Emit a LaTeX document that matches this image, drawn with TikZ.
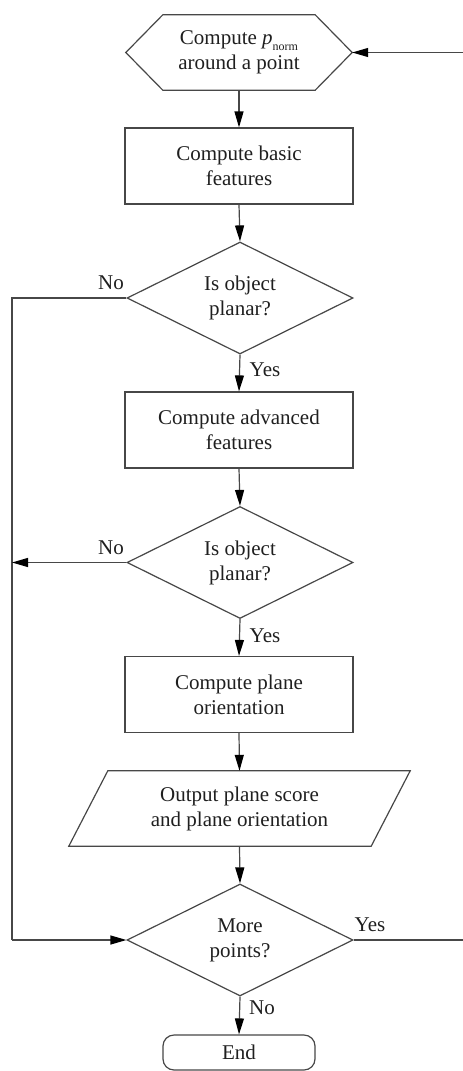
\documentclass[tikz,border=0pt]{standalone}
\usepackage{fontspec}
\setmainfont{Liberation Serif}
\usetikzlibrary{arrows.meta,shapes.geometric}
\begin{document}
\begin{tikzpicture}[x=1pt,y=-1pt,
 every node/.style={font=\fontsize{21}{25}\selectfont, text=black!88, inner sep=0pt, align=center},
 line/.style={draw=black!72, line width=1.2pt},
 arr/.style={line, -{Triangle[length=16pt,width=9pt,color=black]}},
 proc/.style={rectangle, draw=black!72, line width=1.2pt, minimum width=228pt, minimum height=76pt},
 dec/.style={diamond, draw=black!72, line width=1.2pt, minimum width=226pt, minimum height=112pt, aspect=2},
 lbl/.style={anchor=base}]
\useasboundingbox (0,0) rectangle (463,1071);

% nodes
\node (hex) at (239,52.5) [minimum width=226pt, minimum height=75pt]
  {Compute {\itshape p}\raisebox{-0.28em}{\fontsize{12}{12}\selectfont norm}\\around a point};
\draw[line] (hex.west) -- ([xshift=37pt]hex.north west) -- ([xshift=-37pt]hex.north east)
  -- (hex.east) -- ([xshift=-37pt]hex.south east) -- ([xshift=37pt]hex.south west) -- cycle;

\node[proc] (b1) at (239,166) {Compute basic\\features};
\node[dec] (d1) at (240,298) {Is object\\planar?};
\node[proc] (b2) at (239,430) {Compute advanced\\features};
\node[dec] (d2) at (240,562.5) {Is object\\planar?};
\node[proc] (b3) at (239,694.5) {Compute plane\\orientation};
\node (out) at (239.5,808.5) [minimum width=302pt, minimum height=75pt]
  {Output plane score\\and plane orientation};
\draw[line] ([xshift=-19.5pt]out.south west) -- ([xshift=19.5pt]out.north west)
  -- ([xshift=19.5pt]out.north east) -- ([xshift=-19.5pt]out.south east) -- cycle;
\node[dec] (d3) at (240,940) {More\\points?};
\node (end) at (239,1052.5) [rectangle, rounded corners=11pt, draw=black!72, line width=1.2pt,
  minimum width=152pt, minimum height=35pt] {End};

% coordinates
\coordinate (rin) at (463,52.5);
\coordinate (rout) at (463,940);
\coordinate (l1) at (12,298);
\coordinate (l2) at (12,562.5);
\coordinate (l3) at (12,940);

% connectors
\draw[arr] (rin) -- (hex.east);
\draw[arr] (hex.south) -- (b1.north);
\draw[arr] (b1.south) -- (d1.north);
\draw[arr] (d1.south) -- (b2.north);
\draw[arr] (b2.south) -- (d2.north);
\draw[arr] (d2.south) -- (b3.north);
\draw[arr] (b3.south) -- (out.south |- out.north);
\draw[arr] (out.south) -- (d3.north);
\draw[arr] (d3.south) -- (end.north);
\draw[line] (d1.west) -- (l1) -- (l3);
\draw[arr] (l3) -- (d3.west);
\draw[arr] (d2.west) -- (l2);
\draw[line] (d3.east) -- (rout);

% labels
\node[lbl] (n1) at (111,289) {No};
\node[lbl] (y1) at (265,376) {Yes};
\node[lbl] (n2) at (111,554) {No};
\node[lbl] (y2) at (265,642) {Yes};
\node[lbl] (y3) at (370,931) {Yes};
\node[lbl] (n3) at (262,1014) {No};
\end{tikzpicture}
\end{document}
